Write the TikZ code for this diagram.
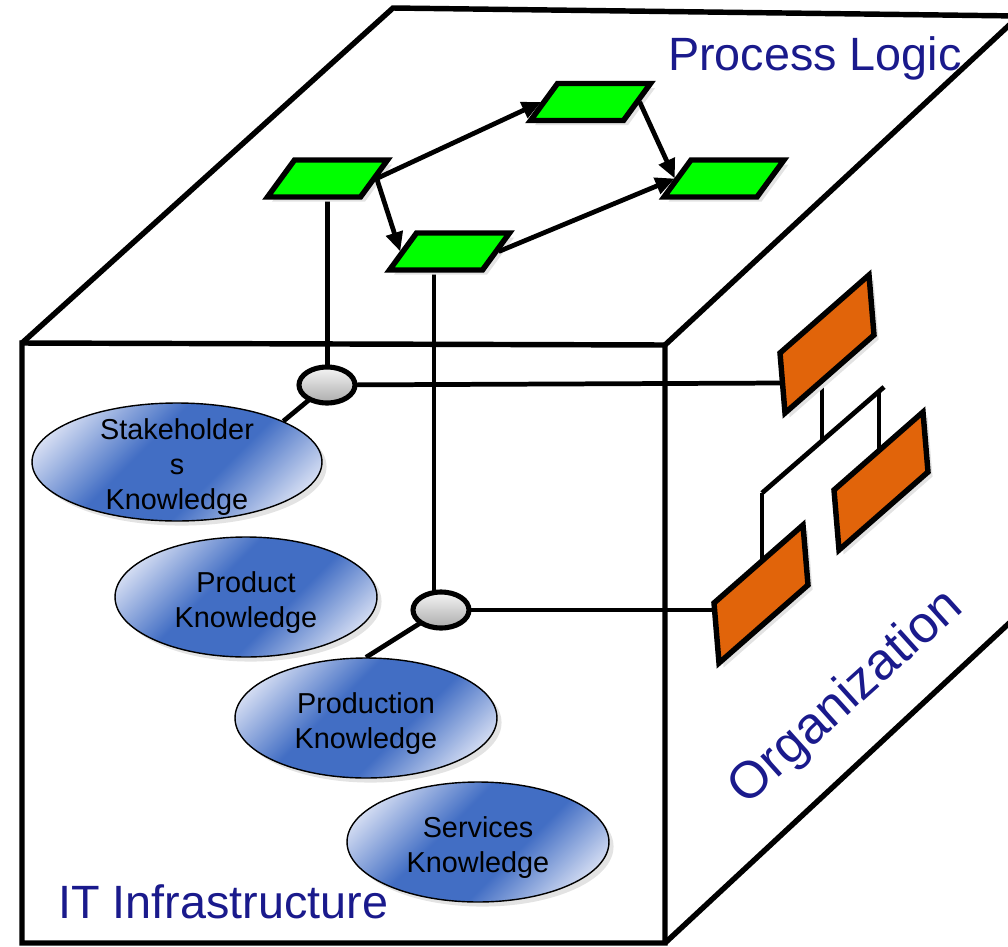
\documentclass[tikz,border=0pt]{standalone}
\usepackage{fontspec}
\setmainfont{Liberation Sans}
\usetikzlibrary{shapes.geometric,arrows.meta,shadows,calc}
\definecolor{navy}{RGB}{26,26,140}
\definecolor{kdark}{RGB}{66,110,196}
\definecolor{klight}{RGB}{236,239,250}
\definecolor{orgorange}{RGB}{225,100,10}
\definecolor{procgreen}{RGB}{0,255,0}
\pgfdeclareverticalshading{knowshade}{100bp}{color(0bp)=(klight); color(20bp)=(klight); color(41bp)=(kdark); color(58bp)=(kdark); color(80bp)=(klight); color(100bp)=(klight)}
\pgfdeclarelayer{bg}
\pgfsetlayers{bg,main}
\begin{document}
\begin{tikzpicture}[x=0.02cm,y=-0.02cm,
  edge/.style={line width=3.1pt, line join=miter},
  link/.style={line width=2.7pt},
  flow/.style={line width=2.7pt, -{Triangle[length=11pt,width=9.5pt]}},
  softshadow/.style={drop shadow={shadow xshift=2.6pt, shadow yshift=-2.6pt, fill=black!11, opacity=1}},
  task/.style={rectangle, draw, line width=3.1pt, line join=miter, fill=procgreen,
    minimum width=1.86cm, minimum height=0.74cm, inner sep=0pt,
    xslant=0.73, transform shape, softshadow},
  know/.style={ellipse, draw, line width=0.8pt, shading=knowshade, shading angle=45,
    minimum width=5.24cm, minimum height=2.4cm, inner sep=0pt, softshadow},
  ktext/.style={font=\fontsize{16.4}{19.9}\selectfont, align=center, text=black, inner sep=0pt, yshift=-3pt},
  junction/.style={ellipse, draw, line width=2.9pt, top color=gray!8, bottom color=gray!65,
    minimum width=1.12cm, minimum height=0.72cm, inner sep=0pt},
  orgbox/.style={draw, line width=3.1pt, line join=miter, fill=orgorange, softshadow},
  face label/.style={text=navy, font=\fontsize{26.6}{32}\selectfont, inner sep=0pt}
]
\useasboundingbox (0,0) rectangle (1008,947);

% cube
\draw[edge] (22,943) -- (22,343) -- (665,345) -- (665,943) -- cycle;
\draw[edge] (22,343) -- (393,8) -- (1019,16) -- (665,345);
\draw[edge] (665,943) -- (1019,614);

% org chart links (under the boxes)
\coordinate (o1b) at (822,381);
\coordinate (o1d) at (822,441);
\coordinate (da) at (762,493);
\coordinate (db) at (884,387);
\coordinate (o2t) at (879,391);
\coordinate (o2b) at (879,451);
\coordinate (o3t) at (762,559);
\draw[link] (o1b) -- (o1d);
\draw[link] (da) -- (db);
\draw[link] (o2t) -- (o2b);
\draw[link] (da) -- (o3t);

% orange boxes
\draw[orgbox] (780,353) coordinate (o1) -- ++(89,-78) -- ++(5,60) -- ++(-89,78) -- cycle;
\draw[orgbox] (834,490) coordinate (o2) -- ++(89,-78) -- ++(5,60) -- ++(-89,78) -- cycle;
\draw[orgbox] (714,603) coordinate (o3) -- ++(89,-78) -- ++(5,60) -- ++(-89,78) -- cycle;
\coordinate (o1w) at (782.4,383);
\coordinate (o3w) at (714.5,610);

% process tasks
\node[shift={(327.5,178.5)}, task] (p1) at (0,0) {};
\node[shift={(590.5,102)}, task] (p2) at (0,0) {};
\node[shift={(724,178.5)}, task] (p3) at (0,0) {};
\node[shift={(449.5,251.5)}, task] (p4) at (0,0) {};

% knowledge ellipses
\node[know, minimum width=5.8cm, minimum height=2.36cm,
  label={[ktext]center:{Stakeholder\\s\\Knowledge}}] (e1) at (177,462) {};
\node[know, label={[ktext]center:{Product\\Knowledge}}] (e2) at (246,597) {};
\node[know, label={[ktext]center:{Production\\Knowledge}}] (e3) at (366,718) {};
\node[know, label={[ktext]center:{Services\\Knowledge}}] (e4) at (478,842) {};

% junctions
\node[junction] (j1) at (327,385) {};
\node[junction] (j2) at (441,610) {};

% connectors under nodes
\begin{pgfonlayer}{bg}
\draw[link] (p1.center |- p1.south) -- (p1.center |- j1.center);
\draw[link] (p4.south) -- (p4.south |- j2.center);
\draw[link] (j1.center) -- (e1.21);
\draw[link] (j2.center) -- (e3.north);
\draw[link] (j1.center) -- (o1w);
\draw[link] (j2.center) -- (o3w);
\end{pgfonlayer}

% flow arrows
\draw[flow] (p1.east) -- (p2.west);
\draw[flow] (p1.east) -- (p4.west);
\draw[flow] (p2.east) -- (p3.west);
\draw[flow] (p4.east) -- (p3.west);

% face labels
\node[face label, anchor=base] (pl) at (815,70) {Process Logic};
\node[face label, anchor=base west] (it) at (58,918) {IT Infrastructure};
\node[face label, font=\fontsize{29.5}{34}\selectfont, anchor=base, rotate=42] (org) at (856,708) {Organization};
\end{tikzpicture}
\end{document}
